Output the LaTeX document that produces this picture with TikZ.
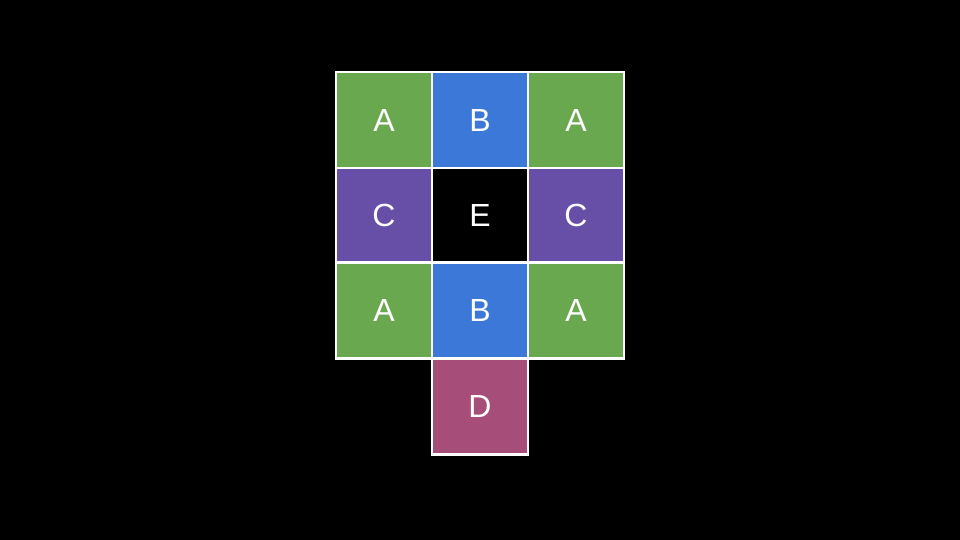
\documentclass[tikz,border=0pt]{standalone}
\usepackage{fontspec}
\setmainfont{Liberation Sans}
\definecolor{cgreen}{HTML}{6AA84F}
\definecolor{cblue}{HTML}{3C78D8}
\definecolor{cpurple}{HTML}{674EA7}
\definecolor{cmag}{HTML}{A64D79}
\begin{document}
\begin{tikzpicture}[x=1pt,y=-1pt,
  cell/.style={draw=white,line width=2.5pt,minimum width=96pt,minimum height=96pt,inner sep=0pt,outer sep=0pt,text=white,font=\fontsize{32}{36}\selectfont,anchor=center},
  mid/.style={cell,minimum height=94.5pt}]
\fill[black] (0,0) rectangle (960,540);
\useasboundingbox (0,0) rectangle (960,540);
\node[cell,fill=cgreen] (a1) at (384,120) {A};
\node[cell,fill=cblue] (b1) at (480,120) {B};
\node[cell,fill=cgreen] (a2) at (576,120) {A};
\node[mid,fill=cpurple] (c1) at (384,215.25) {C};
\node[mid,fill=black] (e) at (480,215.25) {E};
\node[mid,fill=cpurple] (c2) at (576,215.25) {C};
\node[cell,fill=cgreen] (a3) at (384,310.5) {A};
\node[cell,fill=cblue] (b2) at (480,310.5) {B};
\node[cell,fill=cgreen] (a4) at (576,310.5) {A};
\node[cell,fill=cmag] (d) at (480,406.5) {D};
\end{tikzpicture}
\end{document}
